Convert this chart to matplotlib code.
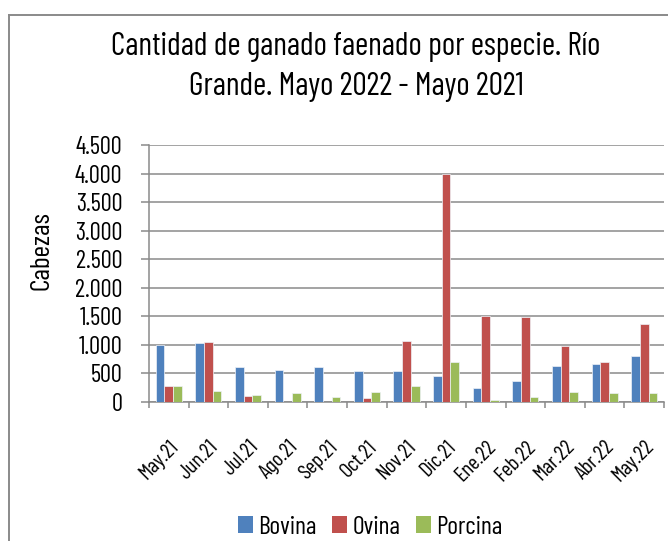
import matplotlib
matplotlib.use("Agg")
import matplotlib.pyplot as plt
import matplotlib.transforms as mtransforms
from matplotlib.ticker import FuncFormatter, FixedLocator
import numpy as np

categories = ["May.21", "Jun.21", "Jul.21", "Ago.21", "Sep.21", "Oct.21", "Nov.21",
              "Dic.21", "Ene.22", "Feb.22", "Mar.22", "Abr.22", "May.22"]
bovina = [990, 1030, 620, 560, 620, 550, 550, 460, 250, 375, 635, 665, 805]
ovina = [280, 1045, 105, 0, 0, 70, 1060, 3995, 1505, 1495, 980, 695, 1360]
porcina = [280, 190, 130, 160, 85, 170, 275, 695, 40, 85, 170, 150, 165]
series_names = ["Bovina", "Ovina", "Porcina"]
colors = ["#4F81BD", "#C0504D", "#9BBB59"]
yticks = [0, 500, 1000, 1500, 2000, 2500, 3000, 3500, 4000, 4500]

plt.rcParams['font.family'] = ['Barlow Condensed', 'Roboto Condensed', 'DejaVu Sans']

W, H = 668, 541
fig = plt.figure(figsize=(W / 100, H / 100), dpi=100)
L, R, B, T = 149, 664, 402, 145
ax = fig.add_axes([L / W, 1 - B / H, (R - L) / W, (B - T) / H])

x = np.arange(len(categories))
w = 0.22
for i, (vals, name, c) in enumerate(zip([bovina, ovina, porcina], series_names, colors)):
    ax.bar(x + (i - 1) * w, vals, width=w, color=c, edgecolor="#eef2f8", linewidth=0.5,
           label=name, zorder=3)

ax.set_xlim(-0.5, len(categories) - 0.5)
ax.set_ylim(0, 4500)
ax.yaxis.set_major_locator(FixedLocator(yticks))
ax.yaxis.set_major_formatter(FuncFormatter(lambda v, p: f"{int(v):,}".replace(",", ".")))
ax.grid(axis="y", color="#8a8a8a", linewidth=1.1, zorder=0)
ax.set_axisbelow(True)

for s in ["top", "right"]:
    ax.spines[s].set_visible(False)
for s in ["left", "bottom"]:
    ax.spines[s].set_color("#8a8a8a")
    ax.spines[s].set_linewidth(1.1)

ax.tick_params(axis="y", length=5.8, width=1.1, color="#8a8a8a", labelsize=17.8, pad=13.5)
ax.set_xticks(x)
ax.set_xticks(np.arange(-0.5, len(categories) + 0.5, 1), minor=True)
ax.tick_params(axis="x", which="minor", length=4, width=1.1, color="#8a8a8a")
ax.tick_params(axis="x", which="major", length=0, pad=30)
ax.set_xticklabels(categories, rotation=45, ha="right", va="center",
                   rotation_mode="anchor", fontsize=15.5)
offset = mtransforms.ScaledTranslation(7 / 100, 0, fig.dpi_scale_trans)
for lab in ax.get_xticklabels():
    lab.set_transform(lab.get_transform() + offset)

ax.set_ylabel("Cabezas", fontsize=20)
ax.yaxis.set_label_coords((53 - L) / (R - L), (B - 251) / (B - T))

fig.text(356 / W, 1 - 55 / H, "Cantidad de ganado faenado por especie. Río",
         ha="center", va="baseline", fontsize=23)
fig.text(356 / W, 1 - 95 / H, "Grande. Mayo 2022 - Mayo 2021",
         ha="center", va="baseline", fontsize=23)

leg = fig.legend(loc="center", bbox_to_anchor=(370 / W, 1 - 527 / H), ncol=3,
                 frameon=False, fontsize=18.4, handlelength=0.6, handleheight=0.6,
                 handletextpad=0.2, columnspacing=0.6, borderpad=0)
for h in leg.legend_handles:
    h.set_edgecolor("none")

# outer chart border (left and top visible in the crop)
fig.add_artist(plt.Line2D([9 / W, 9 / W], [0, 1 - 15 / H], transform=fig.transFigure,
                          color="#8a8a8a", linewidth=1.4))
fig.add_artist(plt.Line2D([9 / W, 1], [1 - 15 / H, 1 - 15 / H], transform=fig.transFigure,
                          color="#8a8a8a", linewidth=1.4))

fig.savefig("out.png", dpi=100)
